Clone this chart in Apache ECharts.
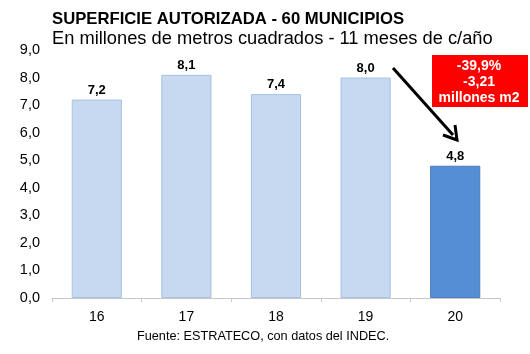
<!DOCTYPE html>
<html><head><meta charset="utf-8">
<script src="https://cdn.jsdelivr.net/npm/echarts@6/dist/echarts.min.js"></script>
<style>html,body{margin:0;padding:0;background:#fff}#c{width:530px;height:354px}</style>
</head><body><div id="c"></div>
<script>
const categories = ['16','17','18','19','20'];
const values = [7.2, 8.1, 7.4, 8.0, 4.8];
const yTicks = [0,1,2,3,4,5,6,7,8,9];
const title = 'SUPERFICIE AUTORIZADA - 60 MUNICIPIOS';
const subtitle = 'En millones de metros cuadrados - 11 meses de c/año';
const source = 'Fuente: ESTRATECO, con datos del INDEC.';
const boxLines = ['-39,9%', '-3,21', 'millones m2'];

const fmt = v => v.toFixed(1).replace('.', ',');
const chart = echarts.init(document.getElementById('c'));
chart.setOption({
  animation: false,
  textStyle: {fontFamily: 'Liberation Sans, Arial, sans-serif'},
  title: [
    {text: title, left: 47, top: 6, textStyle: {fontSize: 16.7, fontWeight: 'bold', color: '#000'}},
    {text: subtitle, left: 47, top: 25, textStyle: {fontSize: 18.3, fontWeight: 'normal', color: '#000'}},
    {text: source, left: 132, top: 325, textStyle: {fontSize: 12.7, fontWeight: 'normal', color: '#000'}}
  ],
  grid: {left: 52, right: 30, top: 50, bottom: 56},
  xAxis: {
    type: 'category', data: categories,
    axisLine: {lineStyle: {color: '#c8c8c8'}},
    axisTick: {show: true, alignWithLabel: false, length: 4, lineStyle: {color: '#c8c8c8'}},
    axisLabel: {fontSize: 14, color: '#000', margin: 12}
  },
  yAxis: {
    type: 'value', min: yTicks[0], max: yTicks[yTicks.length-1], interval: 1,
    splitLine: {show: false}, axisLine: {show: false}, axisTick: {show: false},
    axisLabel: {fontSize: 14.5, color: '#000', margin: 12, formatter: v => fmt(v)}
  },
  series: [{
    type: 'bar', barWidth: '56%',
    data: values.map((v, i) => ({
      value: v,
      itemStyle: i === values.length - 1
        ? {color: '#558ED5', borderColor: '#4a7fc0', borderWidth: 1}
        : {color: '#C6D9F1', borderColor: '#a8c1e2', borderWidth: 1}
    })),
    label: {show: true, position: 'top', distance: 3, fontSize: 13, fontWeight: 'bold', color: '#000', formatter: p => fmt(p.value)}
  }],
  graphic: [
    {type: 'rect', shape: {x: 432, y: 55, width: 96, height: 52}, style: {fill: '#FF0000'}},
    {type: 'text', x: 479, y: 58, style: {text: boxLines.join('\n'), fill: '#fff', font: 'bold 14px Liberation Sans, Arial', textAlign: 'center', lineHeight: 16}},
    {type: 'line', shape: {x1: 393, y1: 68, x2: 453, y2: 135}, style: {stroke: '#000', lineWidth: 3}},
    {type: 'polyline', shape: {points: [[443, 135], [457, 140], [455, 125]]}, style: {stroke: '#000', lineWidth: 3, fill: null}}
  ]
});
</script></body></html>
